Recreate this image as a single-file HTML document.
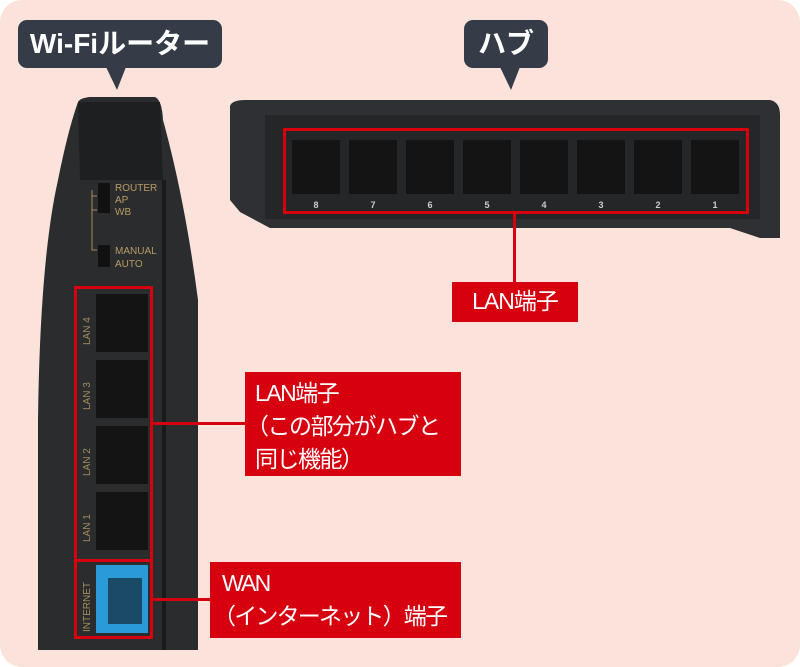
<!DOCTYPE html>
<html><head><meta charset="utf-8"><style>
body{margin:0;width:800px;height:667px;background:#fff;overflow:hidden;font-family:"Liberation Sans","Noto Sans CJK JP",sans-serif}
.card{position:absolute;left:0;top:0;width:800px;height:667px;background:#fbe3dc;border-radius:22px}
.bub{position:absolute;background:#363c47;color:#fff;font-weight:bold;font-size:28px;border-radius:9px;text-align:center;line-height:48px;white-space:nowrap}
.lab{position:absolute;background:#d7000f;color:#fff;font-size:23px;line-height:27px;padding:6px 4px;box-sizing:border-box;white-space:nowrap;letter-spacing:-1px}
.ln{position:absolute;background:#d7000f}
.rb{position:absolute;border:3px solid #d7000f;box-sizing:border-box}
</style></head><body>
<div class="card"></div>
<svg width="800" height="667" style="position:absolute;left:0;top:0">
<path d="M78 102 Q80 98 90 97 L155 97 Q162 100 163 120 Q185 200 198 300 L198 650 L38 650 L38 420 Q40 260 58 180 Q68 130 78 102Z" fill="#2b2c2e"/>
<path d="M78 102 L160 102 L163 180 L80 180Z" fill="#1e1f21"/>
<rect x="162" y="180" width="4" height="470" fill="#1a1a1a"/>
<rect x="98" y="183" width="12" height="30" fill="#111"/>
<rect x="98" y="245" width="12" height="22" fill="#111"/>
<path d="M92 190V250H97M92 196H97M92 210H97" stroke="#a58d5a" fill="none"/>
<g fill="#b89a64" font-size="10"><text x="115" y="191">ROUTER</text><text x="115" y="203">AP</text><text x="115" y="215">WB</text><text x="115" y="254">MANUAL</text><text x="115" y="267">AUTO</text></g>
<g fill="#141414"><rect x="96" y="294" width="52" height="58"/><rect x="96" y="360" width="52" height="58"/><rect x="96" y="426" width="52" height="58"/><rect x="96" y="492" width="52" height="58"/></g>
<g fill="#a58d5a" font-size="10"><text transform="translate(90 345) rotate(-90)">LAN 4</text><text transform="translate(90 410) rotate(-90)">LAN 3</text><text transform="translate(90 476) rotate(-90)">LAN 2</text><text transform="translate(90 542) rotate(-90)">LAN 1</text><text transform="translate(90 632) rotate(-90)">INTERNET</text></g>
<rect x="96" y="565" width="52" height="68" fill="#2a9bd6"/>
<rect x="108" y="578" width="34" height="46" fill="#1a4a66"/>
<path d="M230 106 Q232 100 245 100 L770 100 Q780 102 780 115 L780 238 L760 238 L730 228 L270 228 L240 212 L230 200Z" fill="#2f3033"/>
<rect x="265" y="115" width="495" height="104" fill="#252628"/>
<g fill="#141414"><rect x="292" y="140" width="48" height="54"/><rect x="349" y="140" width="48" height="54"/><rect x="406" y="140" width="48" height="54"/><rect x="463" y="140" width="48" height="54"/><rect x="520" y="140" width="48" height="54"/><rect x="577" y="140" width="48" height="54"/><rect x="634" y="140" width="48" height="54"/><rect x="691" y="140" width="48" height="54"/></g>
<g fill="#ccc" font-size="9" font-weight="bold" text-anchor="middle"><text x="316" y="208">8</text><text x="373" y="208">7</text><text x="430" y="208">6</text><text x="487" y="208">5</text><text x="544" y="208">4</text><text x="601" y="208">3</text><text x="658" y="208">2</text><text x="715" y="208">1</text></g>
<polygon points="106,67 126,67 117,90" fill="#363c47"/>
<polygon points="500,67 520,67 511,90" fill="#363c47"/>
</svg>
<div class="bub" style="left:18px;top:20px;width:204px">Wi-Fiルーター</div>
<div class="bub" style="left:464px;top:20px;width:84px">ハブ</div>
<div class="rb" style="left:283px;top:128px;width:466px;height:86px"></div>
<div class="ln" style="left:513px;top:213px;width:3px;height:70px"></div>
<div class="lab" style="left:452px;top:282px;width:126px;height:40px;text-align:center">LAN端子</div>
<div class="rb" style="left:74px;top:286px;width:79px;height:276px"></div>
<div class="rb" style="left:74px;top:559px;width:79px;height:80px"></div>
<div class="ln" style="left:152px;top:422px;width:94px;height:3px"></div>
<div class="lab" style="left:245px;top:372px;width:216px;height:104px;padding-top:5px;padding-left:10px;line-height:33px;letter-spacing:-1.5px">LAN端子<br><span style="margin-left:-9px">（この部分がハブと</span><br>同じ機能）</div>
<div class="ln" style="left:152px;top:598px;width:60px;height:3px"></div>
<div class="lab" style="left:210px;top:562px;width:251px;height:76px;padding-top:5px;padding-left:12px;line-height:33px;letter-spacing:-1.8px">WAN<br><span style="margin-left:-9px">（インターネット）端子</span></div>
</body></html>
